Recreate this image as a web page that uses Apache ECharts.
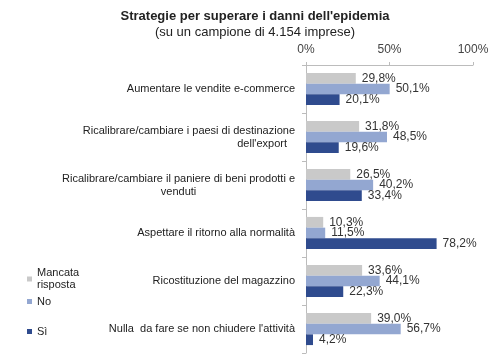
<!DOCTYPE html>
<html>
<head>
<meta charset="utf-8">
<script src="https://cdn.jsdelivr.net/npm/echarts@6/dist/echarts.min.js"></script>
<style>html,body{margin:0;padding:0;background:#fff}#c{width:501px;height:360px}</style>
</head>
<body>
<div id="c"></div>
<script>
const categories = [
  'Aumentare le vendite e-commerce',
  'Ricalibrare/cambiare i paesi di destinazione\ndell\'export',
  'Ricalibrare/cambiare il paniere di beni prodotti e\nvenduti',
  'Aspettare il ritorno alla normalità',
  'Ricostituzione del magazzino',
  'Nulla  da fare se non chiudere l\'attività'
];
const mancataRisposta = [29.8, 31.8, 26.5, 10.3, 33.6, 39.0];
const no = [50.1, 48.5, 40.2, 11.5, 44.1, 56.7];
const si = [20.1, 19.6, 33.4, 78.2, 22.3, 4.2];
const xTicks = [0, 50, 100];

const font = 'Liberation Sans, Arial, sans-serif';
const chart = echarts.init(document.getElementById('c'), null, {renderer: 'canvas'});
const lbl = {
  show: true, position: 'right', distance: 6,
  color: '#333', fontSize: 12, fontFamily: font,
  formatter: p => p.value.toFixed(1).replace('.', ',') + '%'
};
const legendText = {color: '#222', fontSize: 11, fontFamily: font};
function legendAt(name, top, text) {
  return {
    data: [name], orient: 'vertical', left: 22, top: top,
    icon: 'rect', itemWidth: 5, itemHeight: 5, itemGap: 0,
    textStyle: text || legendText,
    formatter: n => n === 'Mancata risposta' ? 'Mancata\nrisposta' : n
  };
}
chart.setOption({
  animation: false,
  title: {
    text: 'Strategie per superare i danni dell\'epidemia',
    subtext: '(su un campione di 4.154 imprese)',
    left: 250, textAlign: 'center', top: 5, itemGap: 3,
    textStyle: {fontSize: 13, fontWeight: 'bold', color: '#222', fontFamily: font},
    subtextStyle: {fontSize: 13, color: '#222', fontFamily: font}
  },
  legend: [
    legendAt('Mancata risposta', 256, {color: '#222', fontSize: 11, fontFamily: font, lineHeight: 12, padding: [12, 0, 0, 0]}),
    legendAt('No', 291),
    legendAt('Sì', 321)
  ],
  grid: {left: 306, right: 28, top: 65, bottom: 7, containLabel: false},
  xAxis: {
    type: 'value', position: 'top', min: 0, max: 100, interval: 50,
    axisLine: {show: true, lineStyle: {color: '#bcbcbc'}},
    axisTick: {show: true, length: 3, lineStyle: {color: '#bcbcbc'}},
    splitLine: {show: false},
    axisLabel: {
      color: '#444', fontSize: 12, fontFamily: font, margin: 9,
      formatter: v => xTicks.includes(v) ? v + '%' : ''
    }
  },
  yAxis: {
    type: 'category', data: categories, inverse: true,
    axisLine: {show: true, lineStyle: {color: '#bcbcbc'}},
    axisTick: {show: true, length: 4, lineStyle: {color: '#bcbcbc'}},
    axisLabel: {
      margin: 11, fontSize: 11, color: '#222', fontFamily: font,
      formatter: (v, i) => v.split('\n').map((s, k) =>
        (i === 1 && k === 1 ? '{r|' : '{c|') + s + '}').join('\n'),
      rich: {
        c: {align: 'center', fontSize: 11, color: '#222', fontFamily: font, lineHeight: 13},
        r: {align: 'right', fontSize: 11, color: '#222', fontFamily: font, lineHeight: 13, padding: [0, 8, 0, 0]}
      }
    }
  },
  series: [
    {name: 'Mancata risposta', type: 'bar', data: mancataRisposta, itemStyle: {color: '#c9c9c9'},
     barGap: '0%', barCategoryGap: '33%', label: lbl},
    {name: 'No', type: 'bar', data: no, itemStyle: {color: '#93a7d1'}, label: lbl},
    {name: 'Sì', type: 'bar', data: si, itemStyle: {color: '#2f4b8e'}, label: lbl}
  ]
});
</script>
</body>
</html>
